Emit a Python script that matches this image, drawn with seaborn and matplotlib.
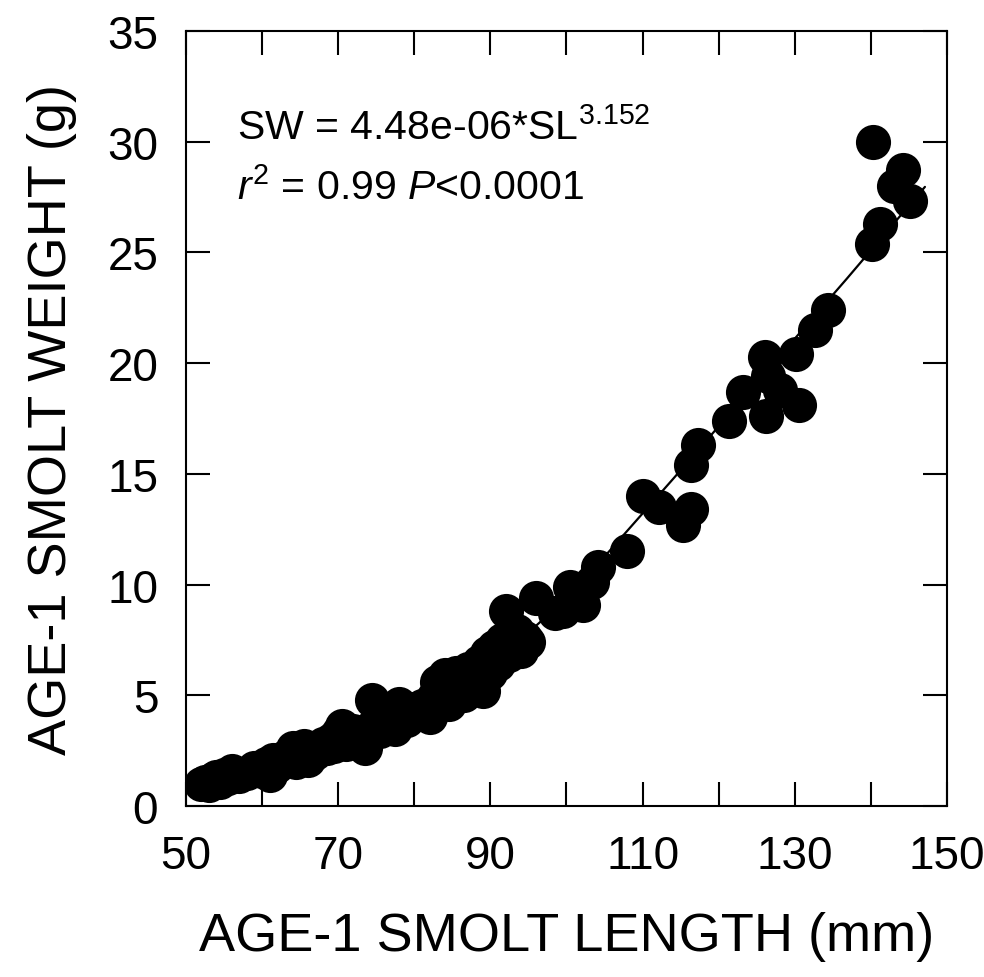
import matplotlib
matplotlib.use("Agg")
import matplotlib.pyplot as plt
import seaborn as sns
import pandas as pd

# ---- data ----
length_mm = [52.0, 52.5, 53.0, 53.5, 54.0, 54.5, 55.0, 55.5, 56.0, 56.5, 57.0, 58.0, 59.0,
             60.0, 60.5, 61.0, 61.5, 62.0, 63.0, 64.0, 64.5, 65.0, 65.5, 66.0, 66.5, 67.0,
             68.0, 68.5, 69.0, 69.5, 70.0, 70.5, 71.0, 71.5, 72.0, 72.5, 73.0, 73.5, 74.0,
             74.5, 75.0, 75.5, 76.0, 76.5, 77.0, 77.5, 78.0, 78.5, 79.0, 79.5, 80.0, 81.0,
             82.0, 82.5, 83.0, 83.5, 84.0, 84.5, 85.0, 85.5, 86.0, 86.5, 87.0, 87.5, 88.0,
             88.5, 89.0, 89.5, 90.0, 90.5, 91.0, 91.5, 92.0, 92.5, 93.0, 93.5, 94.0, 94.5,
             95.0, 96.0, 98.5, 99.5, 100.5, 101.3, 102.2, 103.3, 104.2, 108.0, 110.1, 112.1,
             115.3, 116.4, 116.3, 117.3, 121.3, 123.2, 126.1, 126.5, 128.1, 126.2, 130.2,
             130.5, 132.7, 134.3, 140.2, 141.2, 140.3, 143.0, 144.2, 145.1]
weight_g = [1.0, 1.1, 0.95, 1.2, 1.3, 1.1, 1.4, 1.25, 1.6, 1.5, 1.35, 1.5, 1.7,
            1.6, 1.9, 1.4, 2.1, 1.8, 2.2, 2.6, 2.0, 2.3, 2.7, 2.1, 2.5, 2.4,
            2.8, 2.6, 3.0, 2.7, 3.3, 3.6, 2.8, 3.2, 3.4, 2.9, 3.1, 2.6, 3.5,
            4.8, 3.8, 3.4, 4.0, 3.7, 4.2, 3.5, 4.6, 4.0, 3.9, 4.4, 4.2, 4.5,
            4.0, 4.9, 5.6, 5.2, 5.9, 4.6, 5.3, 6.0, 5.5, 5.0, 6.2, 5.8, 5.6,
            6.5, 5.2, 6.9, 6.0, 7.2, 6.4, 7.5, 8.8, 6.8, 7.3, 7.9, 7.0, 7.6,
            7.4, 9.4, 8.7, 8.8, 9.9, 9.8, 9.1, 10.1, 10.8, 11.5, 14.0, 13.5,
            12.7, 13.4, 15.4, 16.3, 17.4, 18.7, 20.3, 19.4, 18.8, 17.6, 20.4,
            18.1, 21.5, 22.4, 25.4, 26.3, 30.0, 28.0, 28.7, 27.3]

# fitted curve
fit_length = [52.0, 60.0, 70.0, 80.0, 90.0, 97.0, 105.5, 114.0, 136.8, 147.1]
fit_weight = [1.0, 1.75, 2.9, 4.4, 6.3, 8.45, 11.46, 14.77, 23.8, 27.96]

x_ticks = [50, 70, 90, 110, 130, 150]
y_ticks = [0, 5, 10, 15, 20, 25, 30, 35]

pts = pd.DataFrame({"SL": length_mm, "SW": weight_g})
fit = pd.DataFrame({"SL": fit_length, "SW": fit_weight})

sns.set_style("ticks")
plt.rcParams["font.family"] = ["Liberation Sans", "DejaVu Sans"]
plt.rcParams["mathtext.fontset"] = "custom"
plt.rcParams["mathtext.rm"] = "Liberation Sans"
plt.rcParams["mathtext.it"] = "Liberation Sans:italic"
plt.rcParams["text.color"] = "black"
plt.rcParams["axes.labelcolor"] = "black"

fig = plt.figure(figsize=(9.84, 9.78), dpi=100)
ax = fig.add_axes([0.189, 0.1748, 0.7734, 0.7925])

sns.lineplot(data=fit, x="SL", y="SW", ax=ax, color="black", linewidth=1.6,
             sort=False, estimator=None)
sns.scatterplot(data=pts, x="SL", y="SW", ax=ax, color="black", s=640,
                linewidth=0, zorder=3)

ax.set_xlim(50, 150)
ax.set_ylim(0, 35)
ax.set_xticks(range(50, 151, 10))
ax.set_xticklabels([str(v) if v in x_ticks else "" for v in range(50, 151, 10)])
ax.set_yticks(y_ticks)
ax.set_yticklabels([str(v) for v in y_ticks])

ax.tick_params(direction="in", length=17, width=1.5, top=True, right=True,
               labelsize=33, pad=20, color="black", labelcolor="black")
ax.tick_params(axis="y", pad=20)
for sp in ax.spines.values():
    sp.set_visible(True)
    sp.set_linewidth(1.5)
    sp.set_color("black")

ax.set_xlabel("AGE-1 SMOLT LENGTH (mm)", fontsize=39, labelpad=24)
ax.set_ylabel("AGE-1 SMOLT WEIGHT (g)", fontsize=39, labelpad=22)

ax.text(56.7, 30.15, r"SW = 4.48e-06*SL$^{3.152}$", fontsize=29.5, ha="left",
        va="baseline")
ax.text(56.7, 27.45, r"$\it{r}^{2}$ = 0.99 $\it{P}$<0.0001", fontsize=29.5,
        ha="left", va="baseline")

fig.savefig("out.png", dpi=100)
